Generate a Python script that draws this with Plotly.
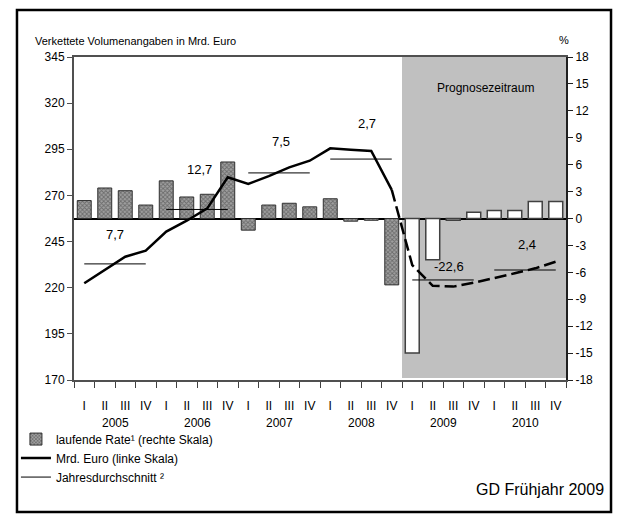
import plotly.graph_objects as go

# quarters 2005 I .. 2010 IV
quarters = ["I", "II", "III", "IV"] * 6
years = ["2005", "2006", "2007", "2008", "2009", "2010"]

# laufende Rate in % (right scale)
rate_hist = [2.0, 3.4, 3.1, 1.5, 4.2, 2.4, 2.7, 6.3,
             -1.3, 1.5, 1.7, 1.3, 2.2, -0.3, -0.2, -7.4]
rate_prog = [-15.0, -4.6, -0.2, 0.7, 0.9, 0.9, 1.9, 1.9]

# Mrd. Euro (left scale)
gdp_hist = [222.4, 229.6, 236.8, 240.1, 250.4, 256.3, 263.0, 279.8,
            276.2, 280.5, 285.2, 288.8, 295.5, 294.8, 294.1, 273.0]
gdp_prog = [232.3, 221.0, 220.6, 222.7, 225.1, 227.8, 230.5, 234.1]

# Jahresdurchschnitt (left scale) and the growth labels
year_avg = [232.9, 262.4, 282.2, 289.7, 224.2, 229.6]
avg_labels = ["7,7", "12,7", "7,5", "2,7", "-22,6", "2,4"]

left_ticks = [170, 195, 220, 245, 270, 295, 320, 345]
right_ticks = [-18, -15, -12, -9, -6, -3, 0, 3, 6, 9, 12, 15, 18]

FONT = "Arial, Liberation Sans, sans-serif"

n_hist = len(rate_hist)
x_hist = list(range(n_hist))
x_prog = list(range(n_hist, n_hist + len(rate_prog)))

fig = go.Figure()

fig.add_trace(go.Bar(
    x=x_hist, y=rate_hist, width=0.68,
    name="laufende Rate¹ (rechte Skala)",
    marker=dict(color="#8a8a8a", line=dict(color="#303030", width=1),
                pattern=dict(shape="x", size=3, solidity=0.5,
                             fgcolor="#383838", bgcolor="#a0a0a0")),
    yaxis="y",
))
fig.add_trace(go.Bar(
    x=x_prog, y=rate_prog, width=0.68, showlegend=False,
    marker=dict(color="white", line=dict(color="#404040", width=1.5)),
    yaxis="y",
))

fig.add_trace(go.Scatter(
    x=x_hist, y=gdp_hist, mode="lines", name="Mrd. Euro (linke Skala)",
    line=dict(color="black", width=2.5), yaxis="y2",
))
fig.add_trace(go.Scatter(
    x=[x_hist[-1]] + x_prog, y=[gdp_hist[-1]] + gdp_prog, mode="lines",
    showlegend=False, line=dict(color="black", width=2.5, dash="12px,5px"),
    yaxis="y2",
))

avg_x, avg_y = [], []
for i, v in enumerate(year_avg):
    avg_x += [4 * i, 4 * i + 3, None]
    avg_y += [v, v, None]
fig.add_trace(go.Scatter(
    x=avg_x, y=avg_y, mode="lines", name="Jahresdurchschnitt ²",
    line=dict(color="black", width=1), yaxis="y2",
))

# growth labels above/below the yearly averages
label_pos = [(1.5, 248.6), (5.6, 283.8), (9.6, 299.1),
             (13.8, 309.1), (17.8, 231.4), (21.6, 243.2)]
for (lx, ly), txt in zip(label_pos, avg_labels):
    fig.add_annotation(x=lx, y=ly, xref="x", yref="y2", text=txt,
                       showarrow=False, font=dict(size=13, color="black"))

fig.add_annotation(x=19.55, y=328, xref="x", yref="y2", text="Prognosezeitraum",
                   showarrow=False, font=dict(size=12, color="black"))

for i, yr in enumerate(years):
    fig.add_annotation(x=4 * i + 1.5, y=0, xref="x", yref="paper", yanchor="top",
                       yshift=-34, text=yr, showarrow=False,
                       font=dict(size=12, color="black"))

fig.add_annotation(x=-0.0833, y=1.0743, xref="paper", yref="paper",
                   xanchor="left", text="Verkettete Volumenangaben in Mrd. Euro",
                   showarrow=False, font=dict(size=11, color="black"))
fig.add_annotation(x=1.0102, y=1.0774, xref="paper", yref="paper",
                   text="%", showarrow=False, font=dict(size=11, color="black"))
fig.add_annotation(x=1.0813, y=-0.3715, xref="paper", yref="paper",
                   xanchor="right", text="GD Frühjahr 2009",
                   showarrow=False, font=dict(size=16, color="black"))

# forecast area and outer frame
fig.add_shape(type="rect", xref="x", yref="paper", x0=15.5, x1=23.5,
              y0=0.006, y1=1, fillcolor="#c0c0c0", line_width=0, layer="below")
fig.add_shape(type="rect", xref="paper", yref="paper",
              x0=-0.1159, x1=1.0915, y0=-0.4087, y1=1.1455,
              line=dict(color="black", width=2.5), fillcolor="rgba(0,0,0,0)")

fig.update_layout(
    width=619, height=514,
    margin=dict(l=74, r=53, t=57, b=134, autoexpand=False),
    paper_bgcolor="white", plot_bgcolor="white",
    font=dict(family=FONT, size=12, color="black"),
    barmode="overlay",
    showlegend=True,
    legend=dict(x=-0.118, y=-0.138, xanchor="left", yanchor="top",
                bgcolor="rgba(0,0,0,0)", font=dict(size=12),
                tracegroupgap=0, itemwidth=30),
    xaxis=dict(range=[-0.5, 23.5], tickmode="array",
               tickvals=list(range(len(quarters))), ticktext=quarters,
               ticks="", ticklabelstandoff=14, showgrid=False, zeroline=False,
               showline=True, linecolor="#505050", linewidth=1.5, mirror=True,
               minor=dict(tick0=-0.5, dtick=1, ticks="outside", ticklen=6,
                          tickwidth=1, tickcolor="#404040", showgrid=False)),
    yaxis=dict(side="right", range=[-18, 18], tickmode="array",
               tickvals=right_ticks, ticktext=[str(v) for v in right_ticks],
               ticks="outside", ticklen=5, tickcolor="#202020",
               showgrid=False, zeroline=True, zerolinecolor="black",
               zerolinewidth=2, showline=True, linecolor="#202020",
               linewidth=2),
    yaxis2=dict(side="left", overlaying="y", range=[170, 345],
                tickmode="array", tickvals=left_ticks,
                ticks="outside", ticklen=5, tickcolor="#505050",
                showgrid=False, zeroline=False, showline=True,
                linecolor="#505050", linewidth=2),
)

fig.write_html("out.html", config={"displayModeBar": False},
               post_script="document.body.style.margin = '0';")
